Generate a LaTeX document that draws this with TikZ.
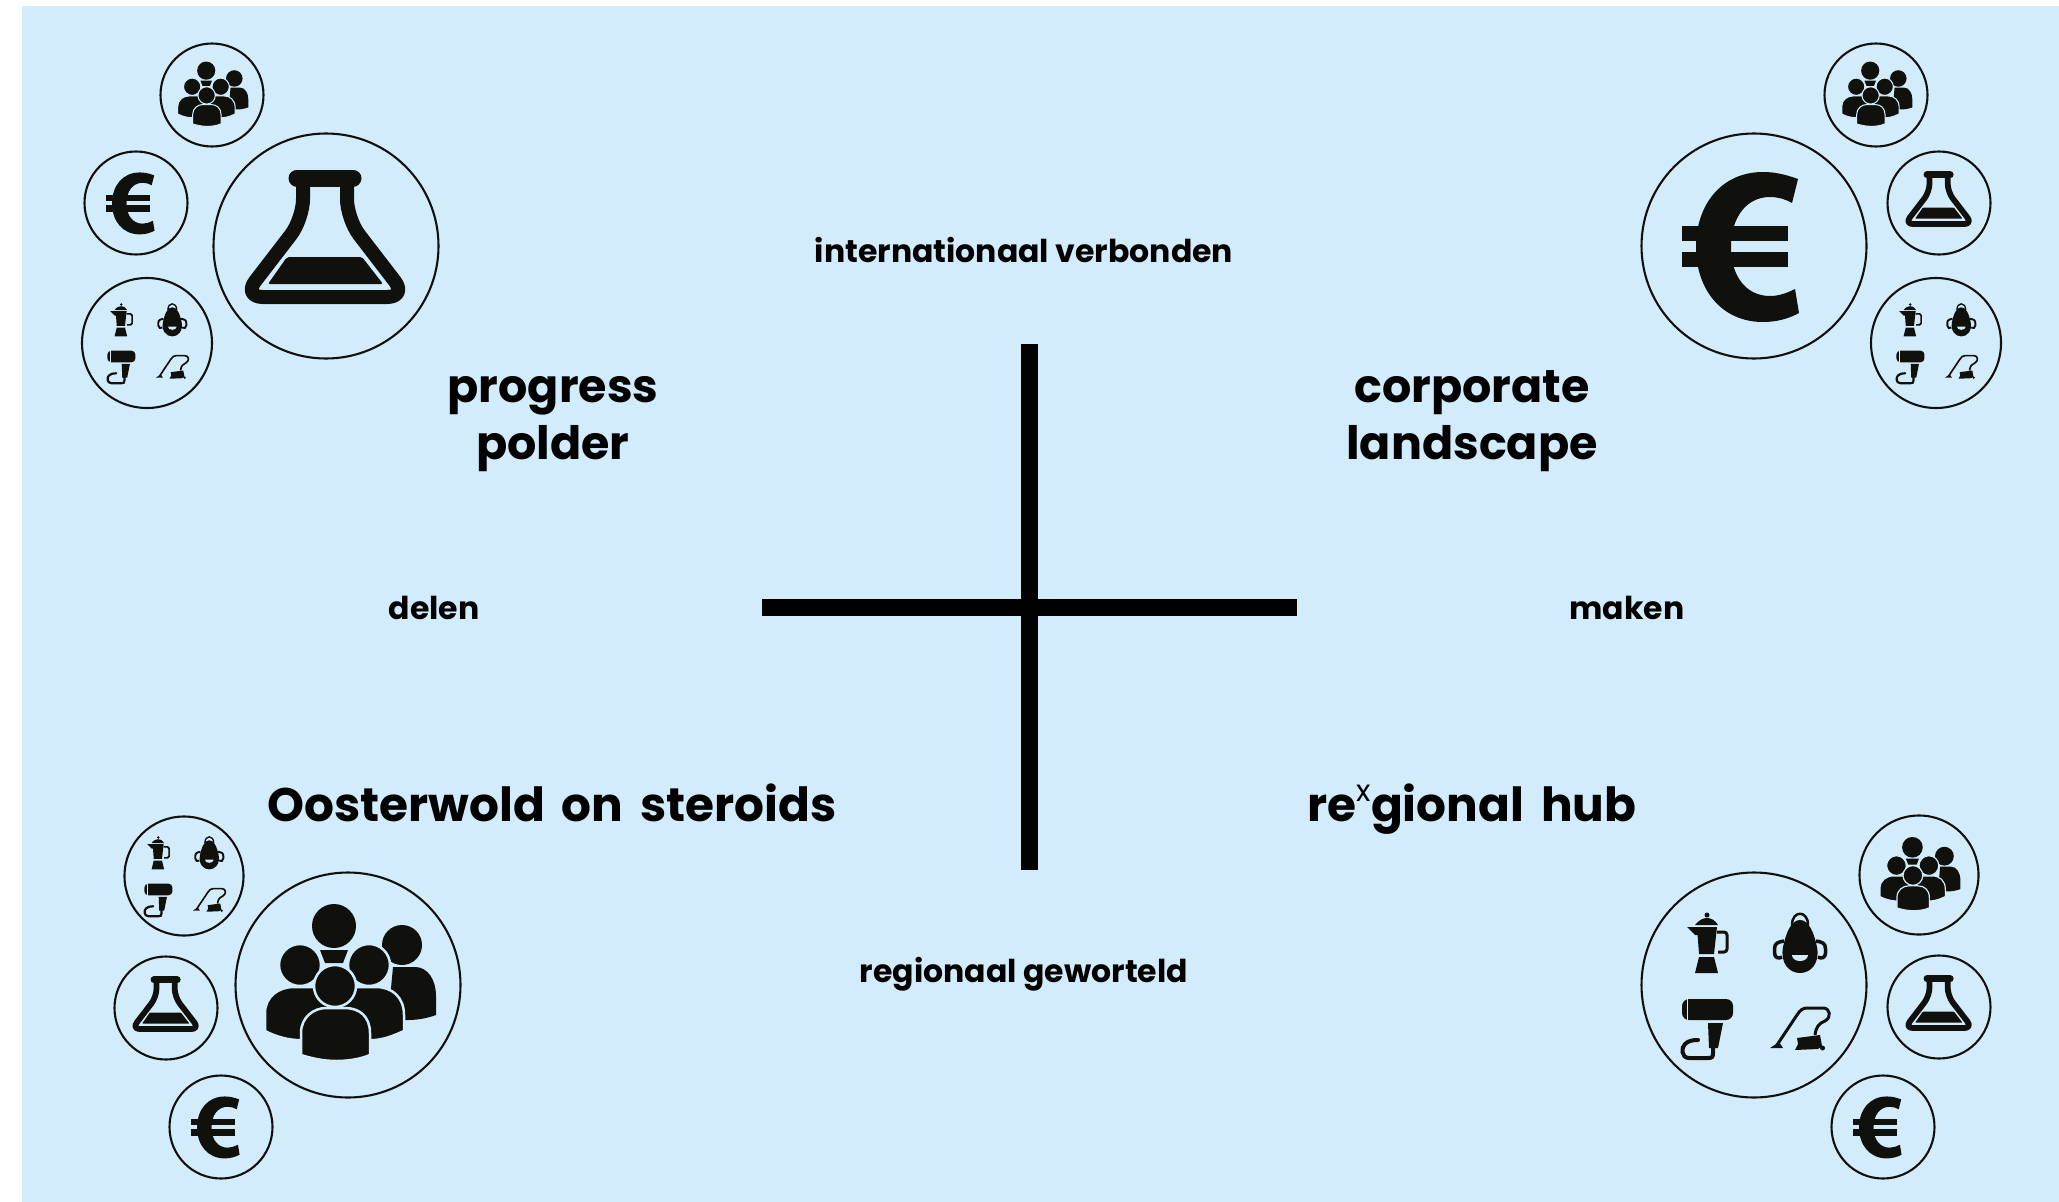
\documentclass[tikz,border=0pt]{standalone}
\usepackage{fontspec}
\setmainfont{Poppins}
\newfontfamily\widefont[WordSpace=1.7]{Poppins}
\definecolor{bgblue}{HTML}{D3ECFC}
\definecolor{ink}{HTML}{10110D}
\tikzset{
  x=1pt,y=-1pt,
  ring/.style={circle,draw=ink,line width=2.1pt,inner sep=0pt,fill=none},
  bigring/.style={ring,minimum size=225pt},
  smallring/.style={ring,minimum size=103pt},
  midring/.style={ring,minimum size=119pt},
  applring/.style={ring,minimum size=130pt},
  quad/.style={font=\fontsize{46}{46}\selectfont\bfseries,anchor=base,inner sep=0pt,text=black},
  widequad/.style={font=\widefont\fontsize{47}{47}\selectfont\bfseries,anchor=base,inner sep=0pt,text=black},
  axislabel/.style={font=\fontsize{31.5}{31.5}\selectfont\bfseries,anchor=base,inner sep=0pt,text=black},
  crossbar/.style={line width=17pt,draw=black}
}
\newcommand{\flaskicon}[2]{%
\begin{scope}[shift={(#1)},scale=#2]
  \draw[ink,line width=#2*14pt,line join=round,rounded corners=#2*20pt] (-23,-68) -- (-23,-27) -- (-83,51) -- (81,51) -- (21,-27) -- (21,-68);
  \draw[ink,line width=#2*17pt,line cap=round] (-29,-68) -- (27,-68);
  \fill[ink,rounded corners=#2*2pt] (-39,11) -- (36,11) -- (57,38) -- (-58,38) -- cycle;
\end{scope}}
\newcommand{\euroicon}[2]{%
\begin{scope}[shift={(#1)},scale=#2]
  \fill[ink] (44,-67) .. controls (30,-72) and (20,-74) .. (9,-74) .. controls (-32,-74) and (-58,-42) .. (-58,1) .. controls (-58,44) and (-32,76) .. (9,76) .. controls (22,76) and (34,73) .. (45,67) -- (41,43) .. controls (33,47) and (25,50) .. (16,50) .. controls (-8,50) and (-23,30) .. (-23,1) .. controls (-23,-28) and (-8,-49) .. (16,-49) .. controls (24,-49) and (31,-47) .. (38,-43) -- cycle;
  \fill[ink] (-72,-20) rectangle (34,-5);
  \fill[ink] (-72,6) rectangle (34,21);
\end{scope}}
\newcommand{\peopleicon}[2]{%
\begin{scope}[shift={(#1)},scale=#2]
  \fill[ink] (-14,-59) circle (22);
  \fill[ink] (-28,-35) -- (0,-35) -- (-5,-22) -- (-23,-22) -- cycle;
  \fill[ink] (54,-40) circle (20);
  \fill[ink] (45,-18) -- (67,-18) .. controls (80,-18) and (88,-5) .. (88,11) -- (88,30) .. controls (80,33) and (70,35) .. (60,35) -- (40,35) -- cycle;
  \filldraw[ink,draw=bgblue,line width=#2*2.5pt] (-83,46) -- (-83,28) .. controls (-83,12) and (-70,2) .. (-54,2) -- (28,2) .. controls (44,2) and (56,12) .. (56,30) -- (56,46) .. controls (47,50) and (38,54) .. (27,55) -- (-52,55) .. controls (-65,54) and (-75,50) .. (-83,46) -- cycle;
  \filldraw[ink,draw=bgblue,line width=#2*2.5pt] (-48,-20) circle (21);
  \filldraw[ink,draw=bgblue,line width=#2*2.5pt] (21,-20) circle (21);
  \filldraw[ink,draw=bgblue,line width=#2*2.5pt] (-47,70) -- (-47,48) .. controls (-47,32) and (-34,23) .. (-22,23) -- (-3,23) .. controls (12,23) and (22,32) .. (22,48) -- (22,70) .. controls (10,75) and (-3,76) .. (-12,76) .. controls (-25,76) and (-38,73) .. (-47,70) -- cycle;
  \filldraw[ink,draw=bgblue,line width=#2*2.5pt] (-13,1) circle (21);
\end{scope}}
\newcommand{\applianceicon}[2]{%
\begin{scope}[shift={(#1)},scale=#2]
  % moka pot
  \fill[ink] (-47,-70) circle (2.5);
  \fill[ink] (-59,-60) .. controls (-55,-65) and (-51,-67) .. (-47,-67) .. controls (-43,-67) and (-39,-65) .. (-36,-60) -- cycle;
  \fill[ink] (-57,-58) -- (-37,-58) -- (-40,-31) -- (-55,-31) -- cycle;
  \fill[ink] (-67,-58) -- (-56,-58) -- (-56,-50) -- (-59,-50) -- cycle;
  \draw[ink,line width=#2*3pt,rounded corners=#2*3pt] (-37,-53) -- (-27,-53) -- (-27,-33) -- (-36,-33);
  \fill[ink] (-55,-28) -- (-40,-28) -- (-36,-12) -- (-59,-12) -- cycle;
  % robot-shaped appliance
  \draw[ink,line width=#2*2.5pt] (38,-60) .. controls (38,-75) and (54,-75) .. (54,-60);
  \fill[ink] (46,-65) .. controls (37,-65) and (32,-52) .. (29,-38) .. controls (26,-22) and (35,-12) .. (46,-12) .. controls (57,-12) and (66,-22) .. (63,-38) .. controls (60,-52) and (55,-65) .. (46,-65) -- cycle;
  \draw[ink,line width=#2*3.5pt] (30,-44) .. controls (24,-43) and (20.5,-42) .. (20.5,-36) -- (20.5,-32) .. controls (20.5,-27) and (25,-26) .. (28,-28);
  \draw[ink,line width=#2*3.5pt] (62,-44) .. controls (68,-43) and (71.5,-42) .. (71.5,-36) -- (71.5,-32) .. controls (71.5,-27) and (67,-26) .. (64,-28);
  \fill[bgblue] (38,-30) -- (54,-30) .. controls (54,-22) and (38,-22) .. cycle;
  % hair dryer
  \fill[ink,rounded corners=#2*7pt] (-72,14) -- (-21,14) -- (-21,35) -- (-72,35) -- cycle;
  \fill[bgblue] (-67,13) rectangle (-65.8,36);
  \fill[ink] (-46,38) -- (-31,38) -- (-36,63) -- (-45,63) -- cycle;
  \draw[ink,line width=#2*4pt,line cap=round] (-41,62) -- (-41,68) .. controls (-41,72) and (-42,73) .. (-46,73) -- (-65,73) .. controls (-73,73) and (-73,62) .. (-69,59) .. controls (-66,56) and (-62,55) .. (-56,55);
  % vacuum cleaner
  \draw[ink,line width=#2*3pt,line join=round] (23,60) -- (43,30) .. controls (46,25) and (49,23) .. (53,23) -- (69,23) .. controls (76,23) and (78,32) .. (71,36) .. controls (65,38) and (62,42) .. (61,50);
  \fill[ink] (16,63) -- (29,63) -- (25,57) -- cycle;
  \fill[ink] (43,53) -- (66,50) -- (68,61) -- (64,64) -- (41,65) -- (44,59) -- cycle;
  \fill[ink] (68.5,63) circle (2.5);
\end{scope}}
\begin{document}
\begin{tikzpicture}
\useasboundingbox (0,0) rectangle (2059,1202);
\fill[white] (0,0) rectangle (2059,1202);
\fill[bgblue] (22,6) rectangle (2059,1202);

% cross
\coordinate (vt) at (1029,344);
\coordinate (vb) at (1029,870);
\coordinate (hl) at (762,607);
\coordinate (hr) at (1297,607);
\draw[crossbar] (vt) -- (vb);
\draw[crossbar] (hl) -- (hr);

% labels
\node[axislabel] (intl) at (1024,262) {internationaal verbonden};
\node[axislabel] (regio) at (1024,982) {regionaal geworteld};
\node[axislabel] (delen) at (434,619) {delen};
\node[axislabel] (maken) at (1627,619) {maken};
\node[quad] (pp1) at (553,402) {progress};
\node[quad] (pp2) at (553,459) {polder};
\node[quad] (cl1) at (1472,402) {corporate};
\node[quad] (cl2) at (1472,459) {landscape};
\node[widequad] (oos) at (552,821) {Oosterwold on steroids};
\node[widequad] (rex) at (1472,821) {re\raisebox{20pt}{\fontsize{30}{30}\selectfont\mdseries x}gional hub};

% top left
\node[bigring] (tlA) at (326,246) {};
\node[smallring] (tlP) at (212,95) {};
\node[smallring] (tlE) at (136,203) {};
\node[applring] (tlH) at (147,343) {};
\flaskicon{tlA.center}{1}
\peopleicon{tlP.center}{.413}
\euroicon{tlE.center}{.413}
\applianceicon{tlH.center}{.55}

% top right
\node[bigring] (trA) at (1754,246) {};
\node[smallring] (trP) at (1876,95) {};
\node[smallring] (trF) at (1939,203) {};
\node[applring] (trH) at (1936,343) {};
\euroicon{trA.center}{1}
\peopleicon{trP.center}{.413}
\flaskicon{trF.center}{.413}
\applianceicon{trH.center}{.55}

% bottom left
\node[bigring] (blA) at (348,985) {};
\node[midring] (blH) at (184,876) {};
\node[smallring] (blF) at (166,1008) {};
\node[smallring] (blE) at (221,1127) {};
\peopleicon{blA.center}{1}
\applianceicon{blH.center}{.55}
\flaskicon{blF.center}{.413}
\euroicon{blE.center}{.413}

% bottom right
\node[bigring] (brA) at (1754,985) {};
\node[midring] (brP) at (1919,875) {};
\node[smallring] (brF) at (1939,1007) {};
\node[smallring] (brE) at (1883,1127) {};
\applianceicon{brA.center}{1}
\peopleicon{brP.center}{.47}
\flaskicon{brF.center}{.413}
\euroicon{brE.center}{.413}
\end{tikzpicture}
\end{document}
